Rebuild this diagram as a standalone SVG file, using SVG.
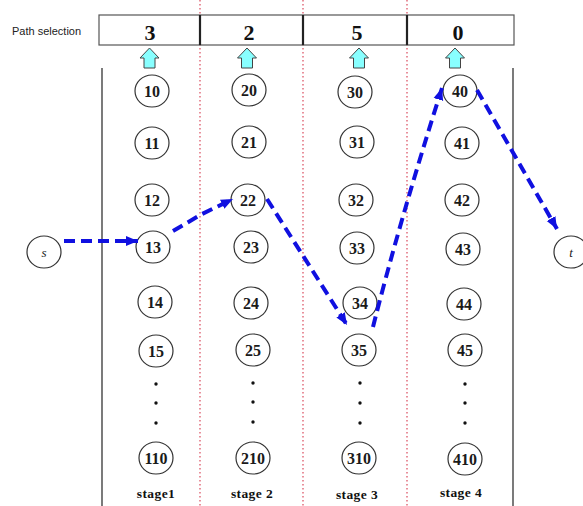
<svg xmlns="http://www.w3.org/2000/svg" width="583" height="506" viewBox="0 0 583 506">
<defs>
<style>
.nd ellipse{fill:#fff;stroke:#333;stroke-width:1.2}
.nd text{font-family:"Liberation Serif",serif;font-weight:bold;font-size:16px;fill:#1a1a1a;text-anchor:middle}
.st{font-family:"Liberation Serif",serif;font-weight:bold;font-size:13.5px;letter-spacing:0.4px;fill:#111;text-anchor:middle}
.hd{font-family:"Liberation Serif",serif;font-weight:bold;font-size:22px;fill:#111;text-anchor:middle}
.red{stroke:#d9485a;stroke-width:1.2;stroke-dasharray:1.5 2.5;fill:none}
.conn path{fill:none;stroke:#1010e0;stroke-width:4;stroke-dasharray:11 6;marker-end:url(#ah)}
.up{fill:#88ffff;stroke:#444;stroke-width:1}
.dot{fill:#111}
</style>
<marker id="ah" markerUnits="userSpaceOnUse" markerWidth="14" markerHeight="12" refX="12" refY="6" orient="auto">
<path d="M0,1 L12,6 L0,11 z" fill="#1010e0"/>
</marker>
</defs>
<rect width="583" height="506" fill="#fff"/>

<!-- red dotted dividers -->
<line class="red" x1="200" y1="0" x2="200" y2="506"/>
<line class="red" x1="303" y1="0" x2="303" y2="506"/>
<line class="red" x1="407" y1="0" x2="407" y2="506"/>

<!-- black frame lines -->
<line x1="102" y1="68" x2="102" y2="506" stroke="#333" stroke-width="1.3"/>
<line x1="513" y1="68" x2="513" y2="506" stroke="#333" stroke-width="1.3"/>

<!-- header -->
<g id="header">
<text x="12" y="35" font-family="Liberation Sans, sans-serif" font-size="11" fill="#222">Path selection</text>
<rect x="99" y="15" width="415" height="30" fill="#fff" stroke="#555" stroke-width="1.2"/>
<line x1="200" y1="15" x2="200" y2="45" stroke="#222" stroke-width="2.2"/>
<line x1="303" y1="15" x2="303" y2="45" stroke="#222" stroke-width="2.2"/>
<line x1="407" y1="15" x2="407" y2="45" stroke="#222" stroke-width="2.2"/>
<text class="hd" x="150" y="40">3</text>
<text class="hd" x="249" y="40">2</text>
<text class="hd" x="357" y="40">5</text>
<text class="hd" x="458" y="40">0</text>
<path class="up" d="M149.5,48 L159,58 L155,58 L155,68 L144,68 L144,58 L140,58 Z"/>
<path class="up" d="M247,48 L256.5,58 L252.5,58 L252.5,68 L241.5,68 L241.5,58 L237.5,58 Z"/>
<path class="up" d="M359,48 L368.5,58 L364.5,58 L364.5,68 L353.5,68 L353.5,58 L349.5,58 Z"/>
<path class="up" d="M455,48 L464.5,58 L460.5,58 L460.5,68 L449.5,68 L449.5,58 L445.5,58 Z"/>
</g>

<!-- s and t -->
<g id="s" class="nd"><ellipse cx="44" cy="252" rx="17" ry="16"/><text x="44" y="257" style="font-style:italic;font-weight:normal;font-size:13px">s</text></g>
<g id="t" class="nd"><ellipse cx="571" cy="252" rx="17" ry="16"/><text x="571" y="257" style="font-style:italic;font-weight:normal;font-size:13px">t</text></g>

<!-- stage 1 -->
<g id="n10" class="nd"><ellipse cx="152" cy="91" rx="17" ry="16"/><text x="152" y="96.5">10</text></g>
<g id="n11" class="nd"><ellipse cx="152" cy="143" rx="17" ry="16"/><text x="152" y="148.5">11</text></g>
<g id="n12" class="nd"><ellipse cx="152" cy="200" rx="17" ry="16"/><text x="152" y="205.5">12</text></g>
<g id="n13" class="nd"><ellipse cx="153" cy="247" rx="17" ry="16"/><text x="153" y="252.5">13</text></g>
<g id="n14" class="nd"><ellipse cx="155" cy="302" rx="17" ry="16"/><text x="155" y="307.5">14</text></g>
<g id="n15" class="nd"><ellipse cx="156" cy="351" rx="17" ry="16"/><text x="156" y="356.5">15</text></g>
<g id="n110" class="nd"><ellipse cx="156" cy="458" rx="17" ry="16"/><text x="156" y="463.5">110</text></g>

<!-- stage 2 -->
<g id="n20" class="nd"><ellipse cx="249" cy="90" rx="17" ry="16"/><text x="249" y="95.5">20</text></g>
<g id="n21" class="nd"><ellipse cx="249" cy="142" rx="17" ry="16"/><text x="249" y="147.5">21</text></g>
<g id="n22" class="nd"><ellipse cx="248" cy="200" rx="17" ry="16"/><text x="248" y="205.5">22</text></g>
<g id="n23" class="nd"><ellipse cx="251" cy="247" rx="17" ry="16"/><text x="251" y="252.5">23</text></g>
<g id="n24" class="nd"><ellipse cx="251" cy="303" rx="17" ry="16"/><text x="251" y="308.5">24</text></g>
<g id="n25" class="nd"><ellipse cx="253" cy="350" rx="17" ry="16"/><text x="253" y="355.5">25</text></g>
<g id="n210" class="nd"><ellipse cx="253" cy="458" rx="17" ry="16"/><text x="253" y="463.5">210</text></g>

<!-- stage 3 -->
<g id="n30" class="nd"><ellipse cx="355" cy="92" rx="17" ry="16"/><text x="355" y="97.5">30</text></g>
<g id="n31" class="nd"><ellipse cx="357" cy="142" rx="17" ry="16"/><text x="357" y="147.5">31</text></g>
<g id="n32" class="nd"><ellipse cx="356" cy="200" rx="17" ry="16"/><text x="356" y="205.5">32</text></g>
<g id="n33" class="nd"><ellipse cx="357" cy="248" rx="17" ry="16"/><text x="357" y="253.5">33</text></g>
<g id="n34" class="nd"><ellipse cx="360" cy="303" rx="17" ry="16"/><text x="360" y="308.5">34</text></g>
<g id="n35" class="nd"><ellipse cx="359" cy="350" rx="17" ry="16"/><text x="359" y="355.5">35</text></g>
<g id="n310" class="nd"><ellipse cx="359" cy="458" rx="17" ry="16"/><text x="359" y="463.5">310</text></g>

<!-- stage 4 -->
<g id="n40" class="nd"><ellipse cx="460" cy="91" rx="17" ry="16"/><text x="460" y="96.5">40</text></g>
<g id="n41" class="nd"><ellipse cx="462" cy="143" rx="17" ry="16"/><text x="462" y="148.5">41</text></g>
<g id="n42" class="nd"><ellipse cx="462" cy="200" rx="17" ry="16"/><text x="462" y="205.5">42</text></g>
<g id="n43" class="nd"><ellipse cx="463" cy="249" rx="17" ry="16"/><text x="463" y="254.5">43</text></g>
<g id="n44" class="nd"><ellipse cx="464" cy="304" rx="17" ry="16"/><text x="464" y="309.5">44</text></g>
<g id="n45" class="nd"><ellipse cx="465" cy="350" rx="17" ry="16"/><text x="465" y="355.5">45</text></g>
<g id="n410" class="nd"><ellipse cx="465" cy="459" rx="17" ry="16"/><text x="465" y="464.5">410</text></g>

<!-- ellipsis dots -->
<g id="dots">
<circle class="dot" cx="156" cy="384" r="1.7"/><circle class="dot" cx="156" cy="403" r="1.7"/><circle class="dot" cx="156" cy="423" r="1.7"/>
<circle class="dot" cx="253" cy="383" r="1.7"/><circle class="dot" cx="253" cy="402" r="1.7"/><circle class="dot" cx="253" cy="422" r="1.7"/>
<circle class="dot" cx="360" cy="383" r="1.7"/><circle class="dot" cx="360" cy="403" r="1.7"/><circle class="dot" cx="360" cy="423" r="1.7"/>
<circle class="dot" cx="465" cy="384" r="1.7"/><circle class="dot" cx="465" cy="403" r="1.7"/><circle class="dot" cx="465" cy="423" r="1.7"/>
</g>

<!-- stage labels -->
<g id="labels">
<text class="st" x="156" y="498">stage1</text>
<text class="st" x="252" y="498">stage 2</text>
<text class="st" x="357" y="499">stage 3</text>
<text class="st" x="461" y="497">stage 4</text>
</g>

<!-- connectors -->
<g id="connectors" class="conn">
<path d="M64,241 L138,241"/>
<path d="M173,231 L202,214 L233,199"/>
<path d="M267,199 L347,325"/>
<path d="M373,327 Q400,220 442,88"/>
<path d="M477,90 L557,229"/>
</g>
</svg>
